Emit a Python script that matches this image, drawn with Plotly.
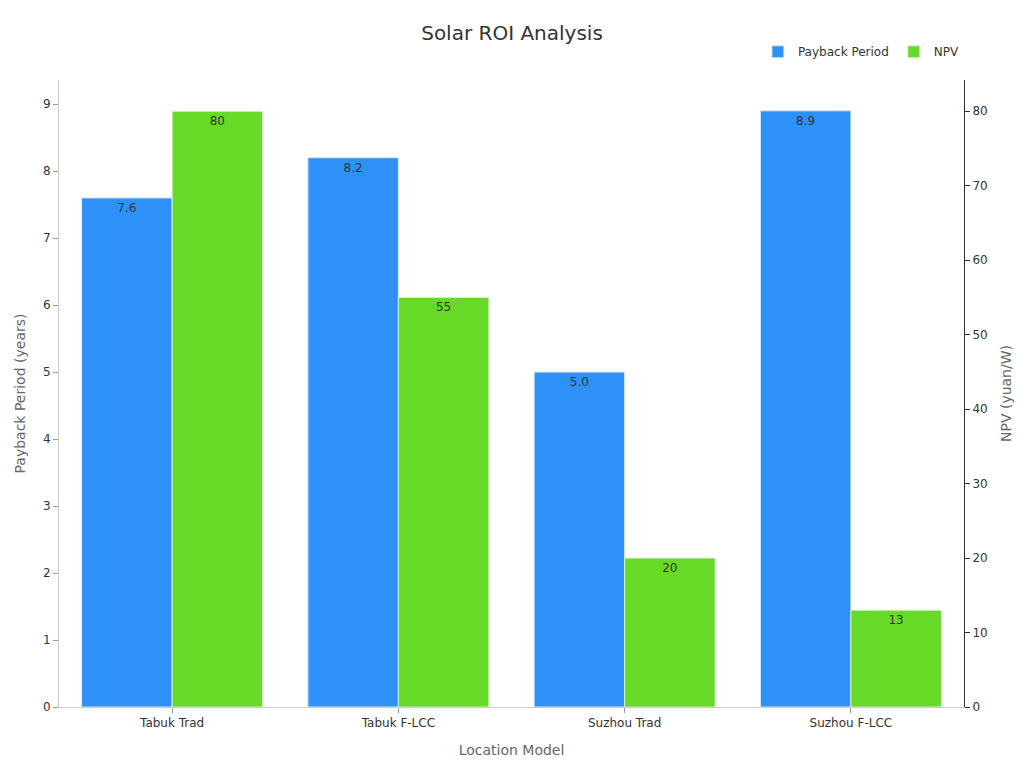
import plotly.graph_objects as go

categories = ["Tabuk Trad", "Tabuk F-LCC", "Suzhou Trad", "Suzhou F-LCC"]
payback = [7.6, 8.2, 5.0, 8.9]
npv = [80, 55, 20, 13]
payback_text = ["7.6", "8.2", "5.0", "8.9"]
npv_text = ["80", "55", "20", "13"]

fig = go.Figure()
fig.add_trace(go.Bar(
    x=categories, y=payback, name="Payback Period", offsetgroup="a",
    marker=dict(color="#2E91F8", line=dict(color="#d9e8f5", width=1)),
    text=payback_text, textposition="inside", insidetextanchor="end",
    textfont=dict(color="#333333", size=12), yaxis="y",
))
fig.add_trace(go.Bar(
    x=categories, y=npv, name="NPV", offsetgroup="b",
    marker=dict(color="#67DA27", line=dict(color="#d9eed0", width=1)),
    text=npv_text, textposition="inside", insidetextanchor="end",
    textfont=dict(color="#333333", size=12), yaxis="y2",
))

fig.update_layout(
    width=1024, height=768,
    paper_bgcolor="white", plot_bgcolor="white",
    font=dict(family="DejaVu Sans", color="#333333", size=12),
    title=dict(text="Solar ROI Analysis", x=0.5, xanchor="center", y=0.957, yanchor="middle",
               font=dict(size=20, color="#333333")),
    margin=dict(l=59, r=60, t=80, b=61),
    barmode="group", bargap=0.2, bargroupgap=0,
    showlegend=True,
    legend=dict(orientation="h", x=1.001, xanchor="right", y=1.045, yanchor="middle",
                font=dict(size=12, color="#333333"), bgcolor="rgba(0,0,0,0)"),
    xaxis=dict(
        title=dict(text="Location Model", font=dict(size=14, color="#666666")),
        automargin=False,
        showline=True, linecolor="#cccccc", linewidth=1, ticks="outside", ticklen=5,
        tickcolor="#999999", showgrid=False, tickfont=dict(size=12, color="#333333"),
    ),
    yaxis=dict(
        title=dict(text="Payback Period (years)", font=dict(size=14, color="#666666"), standoff=14),
        range=[0, 9.36], dtick=1, showline=True, linecolor="#cccccc", linewidth=1,
        ticks="outside", ticklen=5, tickcolor="#999999", showgrid=False, zeroline=False,
        tickfont=dict(size=12, color="#333333"),
    ),
    yaxis2=dict(
        title=dict(text="NPV (yuan/W)", font=dict(size=14, color="#666666"), standoff=14),
        overlaying="y", side="right", range=[0, 84.2], dtick=10,
        showline=True, linecolor="#333333", linewidth=1, ticks="outside", ticklen=5,
        tickcolor="#333333", showgrid=False, zeroline=False,
        tickfont=dict(size=12, color="#333333"),
    ),
)

fig.write_html("out.html")
